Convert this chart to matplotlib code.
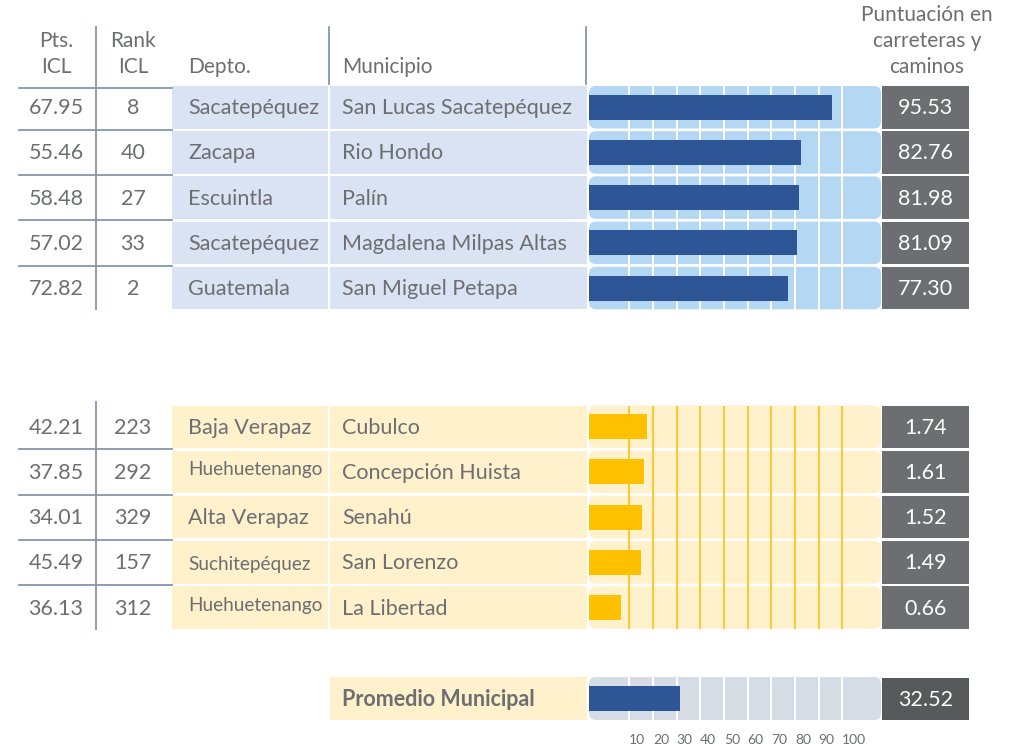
import matplotlib
matplotlib.use("Agg")
import matplotlib.pyplot as plt
from matplotlib.patches import FancyBboxPatch, Rectangle

# ---------------- data ----------------
top_pts = [67.95, 55.46, 58.48, 57.02, 72.82]
top_rank = [8, 40, 27, 33, 2]
top_depto = ["Sacatepéquez", "Zacapa", "Escuintla", "Sacatepéquez", "Guatemala"]
top_muni = ["San Lucas Sacatepéquez", "Rio Hondo", "Palín", "Magdalena Milpas Altas", "San Miguel Petapa"]
top_score = [95.53, 82.76, 81.98, 81.09, 77.30]

bottom_pts = [42.21, 37.85, 34.01, 45.49, 36.13]
bottom_rank = [223, 292, 329, 157, 312]
bottom_depto = ["Baja Verapaz", "Huehuetenango", "Alta Verapaz", "Suchitepéquez", "Huehuetenango"]
bottom_muni = ["Cubulco", "Concepción Huista", "Senahú", "San Lorenzo", "La Libertad"]
bottom_score = [1.74, 1.61, 1.52, 1.49, 0.66]

avg_label = "Promedio Municipal"
avg_score = 32.52

tick_values = [10, 20, 30, 40, 50, 60, 70, 80, 90, 100]
header_pts = "Pts.\nICL"
header_rank = "Rank\nICL"
header_depto = "Depto."
header_muni = "Municipio"
header_score = "Puntuación en\ncarreteras y\ncaminos"

# ---------------- style ----------------
W, H = 1015, 744
FONT = "Lato"
TXT = "#6d6e71"
LINE = "#8497b0"
CELL_BLUE = "#dae3f3"
PANEL_BLUE = "#b4d8f3"
BAR_BLUE = "#2e5596"
CELL_YEL = "#fff1cc"
BAR_YEL = "#ffc000"
PANEL_GREY = "#d6dce5"
VAL_BOX = "#6d6e71"
FS = 15.5
FS_HEAD = 15.0
FS_SMALL = 13.7

plt.rcParams["font.family"] = [FONT, "DejaVu Sans"]

fig = plt.figure(figsize=(W / 100, H / 100), dpi=100)
bg = fig.add_axes([0, 0, 1, 1])
bg.set_xlim(0, W)
bg.set_ylim(H, 0)
bg.axis("off")


def px_axes(x0, y0, x1, y1, z=2):
    a = fig.add_axes([x0 / W, 1 - y1 / H, (x1 - x0) / W, (y1 - y0) / H], zorder=z)
    a.patch.set_alpha(0)
    for s in a.spines.values():
        s.set_visible(False)
    a.set_ylim(y1, y0)
    a.tick_params(left=False, labelleft=False, bottom=False, labelbottom=False)
    return a


# layout
C_PTS, C_RANK = 56, 133
X_DEP0, X_DEP1 = 172, 328
X_MUN0, X_MUN1 = 330, 587
X_BAR0, X_BAR1 = 589, 881
X_VAL0, X_VAL1 = 882, 969
PITCH = 45.2
ROW_H = 42.5
TOP0 = 86
BOT0 = 405.5
AVG_TOP, AVG_BOT = 677, 720
# data -> px mapping of the bar panels
BLUE_PX0, BLUE_PXU = 601.0, 2.415     # blue panels: value units
YEL_PX0, YEL_PXU = 605.6, 23.67       # yellow panel: value units (x10 scale)
bottom_depto_dy = [0, -3, 0, 1, -3]   # small vertical nudges of the small department labels

# header
hkw = dict(color=TXT, fontsize=FS_HEAD, linespacing=1.38)
bg.text(C_PTS, 73, header_pts, ha="center", va="baseline", **hkw)
bg.text(C_RANK, 73, header_rank, ha="center", va="baseline", **hkw)
bg.text(188, 73, header_depto, ha="left", va="baseline", **hkw)
bg.text(342, 73, header_muni, ha="left", va="baseline", **hkw)
bg.text(927, 73, header_score, ha="center", va="baseline", **hkw)
for x in (329, 586):
    bg.plot([x, x], [27, 84], color=LINE, lw=1.3)


def draw_block(top, pts, rank, depto, muni, score, cell, panel, bar, grid_col,
               px0, pxu, vline_top, depto_dy):
    n = len(pts)
    tops = [top + i * PITCH for i in range(n)]
    centers = [t + ROW_H / 2 for t in tops]
    bg.plot([96, 96], [vline_top, tops[-1] + ROW_H], color=LINE, lw=1.3)
    for t in tops[1:]:
        bg.plot([19, 172], [t - 1.3, t - 1.3], color=LINE, lw=1.3)
    for i in range(n):
        t, c = tops[i], centers[i]
        bg.add_patch(Rectangle((X_DEP0, t), X_DEP1 - X_DEP0, ROW_H, color=cell, lw=0))
        bg.add_patch(Rectangle((X_MUN0, t), X_MUN1 - X_MUN0, ROW_H, color=cell, lw=0))
        bg.add_patch(FancyBboxPatch((X_BAR0 + 7, t + 7), X_BAR1 - X_BAR0 - 14, ROW_H - 14,
                                    boxstyle="round,pad=7", color=panel, lw=0))
        bg.add_patch(Rectangle((X_VAL0, t), X_VAL1 - X_VAL0, ROW_H, color=VAL_BOX, lw=0))
        bg.text(C_PTS, c + 1, f"{pts[i]:.2f}", ha="center", va="center", color=TXT, fontsize=FS)
        bg.text(C_RANK, c + 1, f"{rank[i]}", ha="center", va="center", color=TXT, fontsize=FS)
        small = len(depto[i]) > 12
        bg.text(188, c + 1 + depto_dy[i], depto[i], ha="left", va="center", color=TXT,
                fontsize=FS_SMALL if small else FS)
        bg.text(342, c + 1, muni[i], ha="left", va="center", color=TXT, fontsize=FS)
        bg.text((X_VAL0 + X_VAL1) / 2, c + 1, f"{score[i]:.2f}", ha="center", va="center",
                color="white", fontsize=FS)
    ax = px_axes(X_BAR0, tops[0], X_BAR1, tops[-1] + ROW_H)
    xmin = (X_BAR0 - px0) / pxu
    xmax = (X_BAR1 - px0) / pxu
    ax.set_xlim(xmin, xmax)
    for k in range(1, len(tick_values) + 1):
        gx = (YEL_PX0 + YEL_PXU * k - px0) / pxu
        ax.axvline(gx, color=grid_col, lw=1.4, zorder=1)
    ax.barh(centers, [v - xmin for v in score], left=xmin, height=25, color=bar, zorder=3)
    return ax


draw_block(TOP0, top_pts, top_rank, top_depto, top_muni, top_score,
           CELL_BLUE, PANEL_BLUE, BAR_BLUE, "white", BLUE_PX0, BLUE_PXU, 27, [0] * 5)
bg.plot([19, 172], [87.7, 87.7], color=LINE, lw=1.3)
draw_block(BOT0, bottom_pts, bottom_rank, bottom_depto, bottom_muni, bottom_score,
           CELL_YEL, CELL_YEL, BAR_YEL, "#ffc72c", YEL_PX0, YEL_PXU, 402, bottom_depto_dy)

# average row
bg.add_patch(Rectangle((X_MUN0, AVG_TOP), X_MUN1 - X_MUN0, AVG_BOT - AVG_TOP, color=CELL_YEL, lw=0))
bg.text(342, (AVG_TOP + AVG_BOT) / 2 + 1, avg_label, ha="left", va="center", color=TXT,
        fontsize=FS, fontweight="bold")
bg.add_patch(FancyBboxPatch((X_BAR0 + 7, AVG_TOP + 7), X_BAR1 - X_BAR0 - 14, AVG_BOT - AVG_TOP - 14,
                            boxstyle="round,pad=7", color=PANEL_GREY, lw=0))
bg.add_patch(Rectangle((X_VAL0, AVG_TOP + 1), X_VAL1 - X_VAL0, AVG_BOT - AVG_TOP - 1,
                       color="#58595b", lw=0))
bg.text((X_VAL0 + X_VAL1) / 2, (AVG_TOP + AVG_BOT) / 2 + 1, f"{avg_score:.2f}", ha="center",
        va="center", color="white", fontsize=FS)
axa = px_axes(X_BAR0, AVG_TOP, X_BAR1, AVG_BOT)
xmin_a = (X_BAR0 - BLUE_PX0) / BLUE_PXU
xmax_a = (X_BAR1 - BLUE_PX0) / BLUE_PXU
axa.set_xlim(xmin_a, xmax_a)
grid_vals = [(YEL_PX0 + YEL_PXU * k - BLUE_PX0) / BLUE_PXU for k in range(1, len(tick_values) + 1)]
for gx in grid_vals:
    axa.axvline(gx, color="white", lw=1.4, zorder=1)
axa.barh([(AVG_TOP + AVG_BOT) / 2], [avg_score - xmin_a], left=xmin_a, height=25,
         color=BAR_BLUE, zorder=3)
axa.set_xticks(grid_vals)
axa.set_xticklabels([str(t) for t in tick_values])
axa.tick_params(axis="x", bottom=False, labelbottom=True, length=0, pad=10,
                labelsize=10, labelcolor=TXT)
for lab in axa.get_xticklabels():
    lab.set_horizontalalignment("left")

fig.savefig("out.png", dpi=100, facecolor="white")
